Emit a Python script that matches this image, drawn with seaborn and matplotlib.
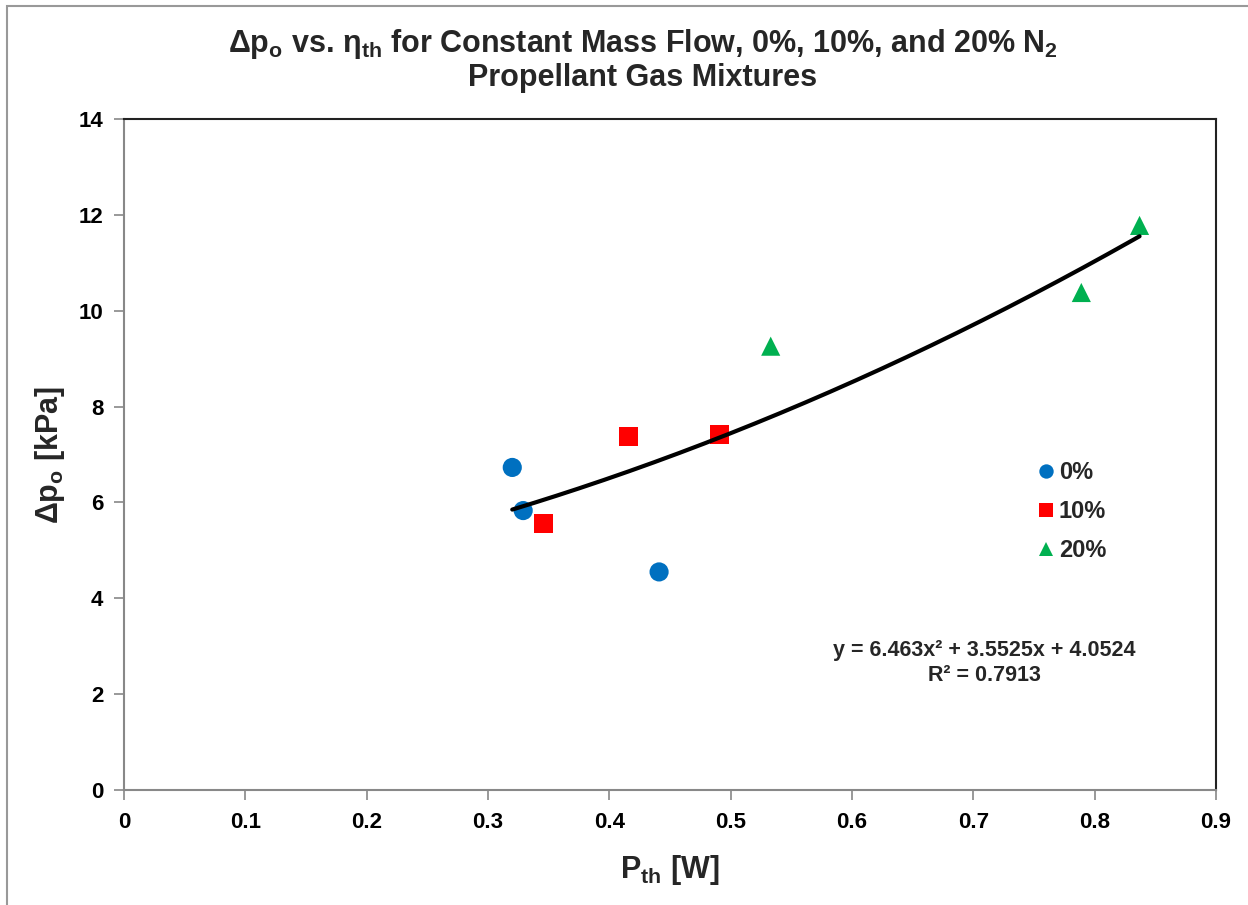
import numpy as np
import pandas as pd
import matplotlib
matplotlib.use("Agg")
import matplotlib.pyplot as plt
from matplotlib.patches import Rectangle
import seaborn as sns

# Measured points for each N2 fraction
mix_labels = ["0%", "10%", "20%"]
p_th_0 = [0.320, 0.329, 0.441]
dp_0 = [6.73, 5.83, 4.55]
p_th_10 = [0.346, 0.416, 0.491]
dp_10 = [5.56, 7.38, 7.42]
p_th_20 = [0.533, 0.789, 0.837]
dp_20 = [9.26, 10.38, 11.78]

# Quadratic trendline coefficients (a x^2 + b x + c) and fit quality
fit_coeffs = [6.463, 3.5525, 4.0524]
r_squared = 0.7913

x_ticks = [0, 0.1, 0.2, 0.3, 0.4, 0.5, 0.6, 0.7, 0.8, 0.9]
y_ticks = [0, 2, 4, 6, 8, 10, 12, 14]

df = pd.DataFrame({
    "P_th": p_th_0 + p_th_10 + p_th_20,
    "dp": dp_0 + dp_10 + dp_20,
    "mix": [mix_labels[0]] * len(p_th_0) + [mix_labels[1]] * len(p_th_10)
           + [mix_labels[2]] * len(p_th_20),
})

sns.set_theme(style="white")
plt.rcParams["font.family"] = ["Liberation Sans", "DejaVu Sans"]
plt.rcParams["font.weight"] = "bold"
plt.rcParams["mathtext.fontset"] = "custom"
plt.rcParams["mathtext.rm"] = "Liberation Sans:bold"
plt.rcParams["mathtext.it"] = "Liberation Sans:bold"
plt.rcParams["mathtext.bf"] = "Liberation Sans:bold"

fig = plt.figure(figsize=(12.48, 9.05), dpi=100)
fig.patch.set_facecolor("white")
ax = fig.add_axes([124 / 1248, 1 - 790 / 905, (1216 - 124) / 1248, (790 - 119) / 905])

palette = {"0%": "#0070C0", "10%": "#FF0000", "20%": "#00B050"}
markers = {"0%": "o", "10%": "s", "20%": "^"}

sns.scatterplot(data=df, x="P_th", y="dp", hue="mix", style="mix",
                hue_order=mix_labels, style_order=mix_labels,
                palette=palette, markers=markers, s=190, linewidth=0,
                ax=ax, zorder=3)

# Trendline over the span of the data
xs = np.linspace(df["P_th"].min(), df["P_th"].max(), 200)
ys = np.polyval(fit_coeffs, xs)
ax.plot(xs, ys, color="black", lw=3, zorder=4)

ax.set_xlim(0, 0.9)
ax.set_ylim(0, 14)
ax.set_xticks(x_ticks)
ax.set_xticklabels([f"{t:g}" for t in x_ticks])
ax.set_yticks(y_ticks)
ax.set_yticklabels([str(t) for t in y_ticks])
ax.tick_params(axis="both", which="major", direction="out", length=7,
               width=1.2, color="#888888", labelsize=16, labelcolor="black",
               bottom=True, left=True)
ax.tick_params(axis="x", pad=9)
ax.tick_params(axis="y", pad=8)
for lbl in ax.get_xticklabels() + ax.get_yticklabels():
    lbl.set_fontweight("bold")

for side in ["left", "bottom"]:
    ax.spines[side].set_color("#888888")
    ax.spines[side].set_linewidth(1.5)
for side in ["top", "right"]:
    ax.spines[side].set_color("#222222")
    ax.spines[side].set_linewidth(1.5)

ax.set_xlabel(r"P$_{th}$ [W]", fontsize=22, fontweight="bold", labelpad=14)
ax.set_ylabel(r"$\Delta$p$_{o}$ [kPa]", fontsize=22, fontweight="bold", labelpad=8)

fig.text(0.515, 0.951,
         "Δp$_{o}$ vs. η$_{th}$ for Constant Mass Flow, 0%, 10%, and 20% N$_{2}$",
         ha="center", va="center", fontsize=22, fontweight="bold")
fig.text(0.515, 0.914, "Propellant Gas Mixtures",
         ha="center", va="center", fontsize=22, fontweight="bold")

ax.text(0.788, 0.208,
        f"y = {fit_coeffs[0]:g}x² + {fit_coeffs[1]:g}x + {fit_coeffs[2]:g}",
        transform=ax.transAxes, ha="center", va="center", fontsize=15.5, fontweight="bold")
ax.text(0.788, 0.171, f"R² = {r_squared:g}",
        transform=ax.transAxes, ha="center", va="center", fontsize=15.5, fontweight="bold")

sns.move_legend(ax, "center left", bbox_to_anchor=(0.836, 0.415), frameon=False,
                title=None, prop={"size": 17, "weight": "bold"}, markerscale=0.75,
                handlelength=0.8, handletextpad=0.12, labelspacing=0.68,
                borderaxespad=0, borderpad=0)

# Outer chart frame
fig.patches.append(Rectangle((7 / 1248, -0.1), 1.2, 1.1 - 6 / 905,
                             transform=fig.transFigure, fill=False,
                             edgecolor="#999999", lw=1.5, zorder=0))

fig.savefig("out.png", dpi=100, facecolor="white")
